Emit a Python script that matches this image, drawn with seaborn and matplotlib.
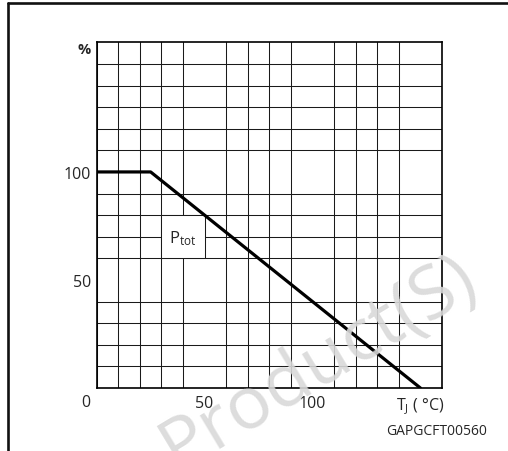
import matplotlib
matplotlib.use("Agg")
import matplotlib.pyplot as plt
import seaborn as sns
import pandas as pd
from matplotlib.patches import Rectangle
from matplotlib.lines import Line2D

# Power derating curve: P_tot (%) versus junction temperature
temps = [0, 25, 150]
ptot_pct = [100, 100, 0]

x_label_pos = [50, 100, 150]
x_label_txt = ["50", "100", r"T$_{\mathregular{J}}$ ( °C)"]
y_label_pos = [50, 100, 160]
y_label_txt = ["50", "100", "%"]

sns.set_style("white")
plt.rcParams["font.family"] = ["Open Sans", "DejaVu Sans"]
plt.rcParams["mathtext.default"] = "regular"

fig = plt.figure(figsize=(5.08, 4.52), dpi=100)
ax = fig.add_axes([96.7 / 508, 1 - 389 / 452, 345.3 / 508, 345.7 / 452])

df = pd.DataFrame({"T": temps, "P": ptot_pct})
sns.lineplot(data=df, x="T", y="P", ax=ax, color="black", linewidth=2.3,
             zorder=5, estimator=None, sort=False)

ax.set_xlim(0, 160)
ax.set_ylim(0, 160)
ax.set_xlabel("")
ax.set_ylabel("")

# 10-unit grid
ax.set_xticks(range(0, 161, 10), minor=True)
ax.set_yticks(range(0, 161, 10), minor=True)
ax.grid(True, which="minor", color="#1a1a1a", linewidth=0.75)
ax.set_xticks(x_label_pos)
ax.set_xticklabels(x_label_txt)
ax.set_yticks(y_label_pos)
ax.set_yticklabels(y_label_txt)
ax.tick_params(which="both", length=0)
ax.tick_params(axis="x", labelsize=11.5, pad=5)
ax.tick_params(axis="y", labelsize=11.5, pad=4)
for lbl in ax.get_yticklabels():
    if lbl.get_text() == "%":
        lbl.set_fontweight("bold")
        lbl.set_fontsize(10.5)
        lbl.set_va("top")

for s in ax.spines.values():
    s.set_color("black")
    s.set_linewidth(1.2)

# label box blanking out the grid behind P_tot
ax.add_patch(Rectangle((30, 60), 20, 20, facecolor="white",
                       edgecolor="#1a1a1a", linewidth=0.75, zorder=3))
ax.text(40, 69.5, r"P$_{\mathregular{tot}}$", ha="center", va="center",
        fontsize=12, zorder=4)

fig.text(86 / 508, 1 - 403 / 452, "0", ha="center", va="center", fontsize=11.5)
fig.text(436.5 / 508, 1 - 432 / 452, "GAPGCFT00560", ha="center", va="center",
         fontsize=10)

# page frame lines
fig.add_artist(Line2D([8 / 508, 1], [1 - 3.5 / 452, 1 - 3.5 / 452],
                      transform=fig.transFigure, color="#111111", linewidth=1.9))
fig.add_artist(Line2D([8 / 508, 8 / 508], [0, 1 - 3.5 / 452],
                      transform=fig.transFigure, color="#111111", linewidth=1.9))

# watermark
fig.text(319 / 508, 1 - 363 / 452, "Product(S)", ha="center", va="center",
         rotation=31, rotation_mode="anchor", fontsize=53, color="#d9d9d9",
         alpha=0.9, zorder=10)

fig.savefig("out.png", dpi=100)
